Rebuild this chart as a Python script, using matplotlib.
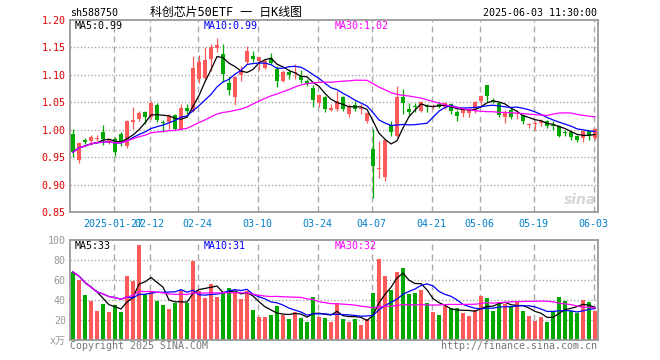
import matplotlib
matplotlib.use("Agg")
import matplotlib.pyplot as plt
import pandas as pd

# ---------------- data ----------------
opens = [0.992, 0.945, 0.981, 0.979, 0.983, 0.995, 0.976, 0.983, 0.992, 0.971,
         1.014, 1.019, 1.032, 1.023, 1.045, 1.013, 1.014, 1.026, 1.002, 1.040,
         1.035, 1.092, 1.094, 1.129, 1.149, 1.138, 1.085, 1.059, 1.100, 1.123,
         1.135, 1.126, 1.112, 1.130, 1.111, 1.088, 1.105, 1.103, 1.098, 1.088,
         1.076, 1.049, 1.059, 1.036, 1.038, 1.059, 1.028, 1.045, 1.037, 1.015,
         0.965, 0.929, 0.913, 1.008, 0.988, 1.060, 1.038, 1.043, 1.035, 1.043,
         1.042, 1.047, 1.042, 1.047, 1.033, 1.030, 1.030, 1.036, 1.053, 1.082,
         1.054, 1.049, 1.024, 1.036, 1.029, 1.026, 1.009, 1.011, 1.012, 1.015,
         1.007, 1.006, 0.995, 0.995, 0.988, 0.985, 0.997, 0.985]
highs = [1.001, 0.977, 0.984, 0.990, 0.990, 1.008, 0.985, 0.986, 0.995, 1.017,
         1.042, 1.035, 1.035, 1.052, 1.049, 1.017, 1.029, 1.029, 1.047, 1.047,
         1.135, 1.136, 1.150, 1.156, 1.168, 1.156, 1.098, 1.098, 1.117, 1.153,
         1.144, 1.133, 1.129, 1.140, 1.117, 1.108, 1.108, 1.120, 1.108, 1.093,
         1.081, 1.065, 1.062, 1.047, 1.071, 1.062, 1.047, 1.053, 1.046, 1.033,
         1.001, 0.980, 0.982, 1.015, 1.080, 1.074, 1.048, 1.049, 1.053, 1.047,
         1.047, 1.050, 1.051, 1.049, 1.036, 1.039, 1.039, 1.052, 1.064, 1.082,
         1.058, 1.050, 1.036, 1.039, 1.036, 1.029, 1.013, 1.015, 1.019, 1.018,
         1.015, 1.009, 1.000, 0.999, 0.991, 1.000, 1.000, 1.003]
lows = [0.950, 0.940, 0.974, 0.973, 0.980, 0.973, 0.974, 0.952, 0.971, 0.966,
        1.002, 1.015, 1.011, 1.020, 1.014, 0.996, 1.002, 0.999, 1.000, 1.029,
        1.032, 1.086, 1.092, 1.107, 1.141, 1.087, 1.063, 1.045, 1.089, 1.120,
        1.123, 1.108, 1.111, 1.120, 1.078, 1.087, 1.092, 1.092, 1.085, 1.080,
        1.042, 1.041, 1.032, 1.035, 1.035, 1.035, 1.024, 1.035, 1.028, 1.013,
        0.875, 0.912, 0.906, 0.988, 0.986, 1.029, 1.026, 1.033, 1.032, 1.033,
        1.038, 1.039, 1.037, 1.029, 1.016, 1.023, 1.023, 1.031, 1.044, 1.050,
        1.049, 1.023, 1.012, 1.019, 1.019, 1.011, 1.004, 0.999, 1.006, 1.003,
        0.999, 0.986, 0.988, 0.981, 0.977, 0.977, 0.982, 0.982]
closes = [0.959, 0.975, 0.977, 0.986, 0.984, 0.983, 0.983, 0.960, 0.977, 1.015,
          1.017, 1.031, 1.023, 1.049, 1.017, 1.012, 1.025, 1.002, 1.040, 1.035,
          1.112, 1.123, 1.127, 1.150, 1.155, 1.102, 1.072, 1.097, 1.108, 1.143,
          1.129, 1.132, 1.126, 1.122, 1.088, 1.105, 1.099, 1.104, 1.091, 1.083,
          1.055, 1.063, 1.038, 1.039, 1.053, 1.038, 1.041, 1.038, 1.038, 1.030,
          0.933, 0.930, 0.982, 0.995, 1.060, 1.049, 1.033, 1.042, 1.051, 1.042,
          1.043, 1.041, 1.048, 1.035, 1.025, 1.036, 1.036, 1.050, 1.062, 1.061,
          1.053, 1.027, 1.032, 1.024, 1.031, 1.015, 1.009, 1.012, 1.015, 1.007,
          1.006, 0.989, 0.994, 0.987, 0.982, 0.997, 0.989, 1.001]
volumes = [68, 59.6, 45, 39, 29, 36, 27.6, 35, 27.6, 63.6,
           58.6, 95, 46, 49.5, 39, 35, 30.6, 36.7, 50, 37,
           79, 49.5, 42.4, 56, 43, 46.8, 52, 47.8, 41, 49.5,
           30, 23, 22.6, 25, 34, 25, 21, 27.6, 22, 18.5,
           43, 23, 22, 18.5, 36.7, 21.5, 18.5, 21.5, 15, 21,
           47.5, 80.8, 63.6, 50.5, 67.7, 71.7, 45.8, 46.8, 49.8, 36.7,
           28.3, 25, 33.7, 31.6, 31.6, 26.6, 24.2, 30, 44.4, 42.4,
           28.6, 36.7, 36, 32.7, 38.4, 28.6, 24.2, 19.2, 23.2, 18.2,
           28.6, 42.8, 39.4, 29.3, 26.6, 40.4, 37.7, 29.3]
tick_idx = [7, 13, 21, 31, 41, 50, 60, 68, 77, 87]
tick_labels = ["2025-01-27", "02-12", "02-24", "03-10", "03-24", "04-07",
               "04-21", "05-06", "05-19", "06-03"]
price_ticks = [0.85, 0.90, 0.95, 1.00, 1.05, 1.10, 1.15, 1.20]
vol_ticks = [0, 20, 40, 60, 80, 100]
vol_tick_labels = ["x万", "20", "40", "60", "80", "100"]
price_ma_text = ["MA5:0.99", "MA10:0.99", "MA30:1.02"]
vol_ma_text = ["MA5:33", "MA10:31", "MA30:32"]

# ---------------- style ----------------
plt.rcParams['lines.scale_dashes'] = False
MONO = ['DejaVu Sans Mono', 'Noto Sans CJK SC']
RED = "#ff5a5a"
GREEN = "#00a800"
MA_COLORS = ["#000000", "#0000ff", "#ff00ff"]
GRID = "#aaaaaa"
FS = 7.2

W, H = 660, 360
fig = plt.figure(figsize=(6.6, 3.6), dpi=100)


def rect(x0, y0, x1, y1):
    return [x0 / W, 1 - y1 / H, (x1 - x0) / W, (y1 - y0) / H]


def ftext(x, y, s, **kw):
    kw.setdefault('family', MONO)
    kw.setdefault('fontsize', FS)
    kw.setdefault('va', 'center')
    fig.text(x / W, 1 - y / H, s, **kw)


ax = fig.add_axes(rect(70, 20, 598, 212))
axv = fig.add_axes(rect(70, 240, 598, 340))

n = len(closes)
xs = list(range(n))
cols = [RED if c >= o else GREEN for o, c in zip(opens, closes)]

for a in (ax, axv):
    a.set_xlim(-0.5, n - 0.5)
    for i in tick_idx:
        a.axvline(i - 0.25, color=GRID, lw=1.0, ls=(0, (4.3, 2.9)), zorder=0)
    for s in a.spines.values():
        s.set_color("#999999")
        s.set_linewidth(1.3)
    a.tick_params(length=0)

# price panel
ax.set_ylim(0.85, 1.20)
for p in price_ticks[1:-1]:
    ax.axhline(p, color=GRID, lw=1.0, ls=(0, (1, 1.5)), zorder=0)
ax.vlines(xs, lows, highs, colors=cols, lw=0.9, zorder=2)
bottoms = [min(o, c) for o, c in zip(opens, closes)]
heights = [max(abs(c - o), 0.0018) for o, c in zip(opens, closes)]
ax.bar(xs, heights, bottom=bottoms, width=0.78, color=cols, lw=0, zorder=3)
cs = pd.Series(closes)
for w, colr in zip((5, 10, 30), MA_COLORS):
    ax.plot(xs, cs.rolling(w, min_periods=1).mean(), color=colr, lw=0.9, zorder=4)
ax.set_yticks(price_ticks)
ax.set_yticklabels([f"{p:.2f}" for p in price_ticks], color="#e00000",
                   family=MONO, fontsize=FS)
ax.tick_params(axis='y', pad=3)
ax.set_xticks([i - 0.25 for i in tick_idx])
ax.set_xticklabels(tick_labels, color="#0080c8", family=MONO, fontsize=FS)
ax.tick_params(axis='x', pad=5)

# volume panel
axv.set_ylim(0, 100)
for v in vol_ticks[1:-1]:
    axv.axhline(v, color=GRID, lw=1.0, ls=(0, (1, 1.5)), zorder=0)
axv.bar(xs, volumes, width=0.83, color=cols, lw=0, zorder=2)
vs = pd.Series(volumes)
for w, colr in zip((5, 10, 30), MA_COLORS):
    axv.plot(xs, vs.rolling(w, min_periods=1).mean(), color=colr, lw=0.9, zorder=4)
axv.set_yticks(vol_ticks)
axv.set_yticklabels(vol_tick_labels, color="#999999", family=MONO, fontsize=FS)
axv.tick_params(axis='y', pad=3)
axv.set_xticks([])

# texts
ftext(70, 13, "sh588750", ha='left')
ftext(150, 12, "科创芯片50ETF 一 日K线图", ha='left', fontsize=8.6,
      family=['DejaVu Sans Mono', 'Noto Sans CJK SC'])
ftext(597, 13, "2025-06-03 11:30:00", ha='right')
for x, s, colr in zip((75, 204, 335), price_ma_text, MA_COLORS):
    ftext(x, 26, s, ha='left', color=colr)
for x, s, colr in zip((75, 204, 335), vol_ma_text, MA_COLORS):
    ftext(x, 246, s, ha='left', color=colr)
ftext(70, 346, "Copyright 2025 SINA.COM", ha='left', color="#777777")
ftext(597, 346, "http://finance.sina.com.cn", ha='right', color="#777777")
ftext(580, 200, "sina", ha='center', color="#d5d5d5", fontsize=10,
      family=['DejaVu Sans'], style='italic', weight='bold')

fig.savefig("out.png", dpi=100)
